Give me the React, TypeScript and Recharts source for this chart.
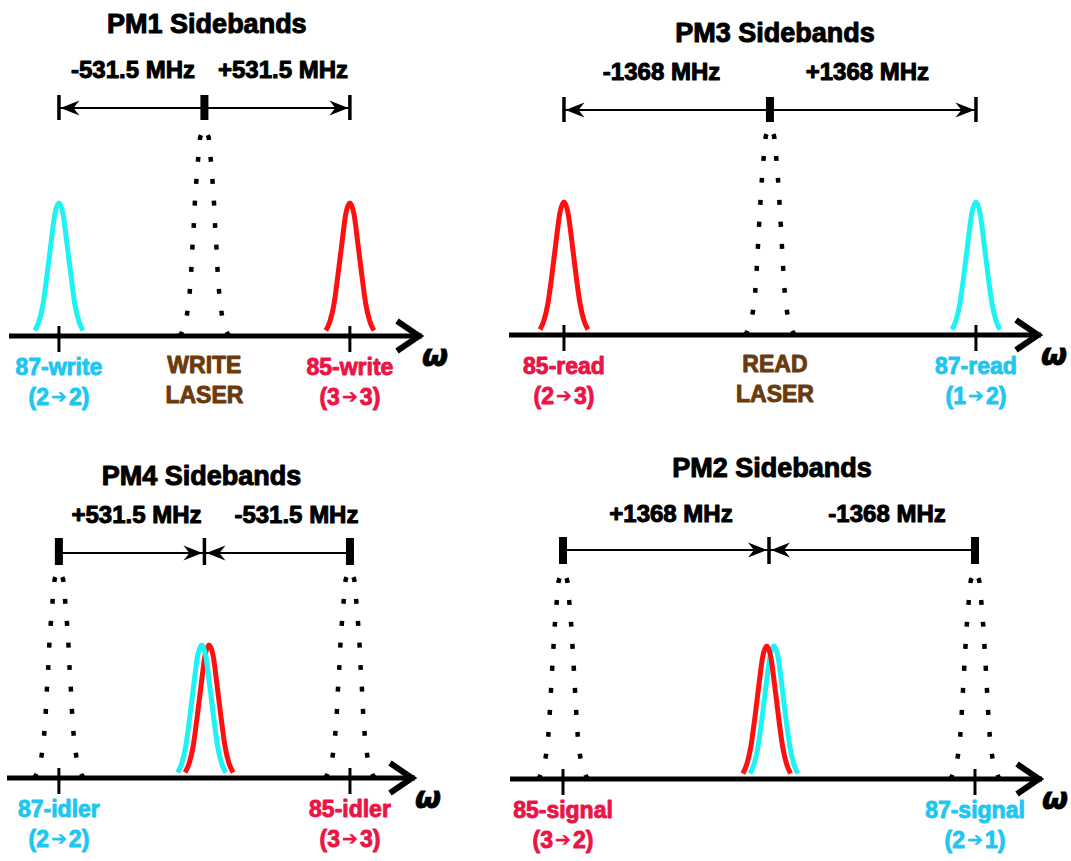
import React from 'react';
import { ComposedChart, Line, XAxis, YAxis, ReferenceLine, ReferenceDot } from 'recharts';

// ---------- colours ----------
const CYAN_LINE = '#1FF2F2';
const RED_LINE = '#FF1010';
const CYAN_TEXT = '#1EC6F0';
const RED_TEXT = '#EA1446';
const BROWN = '#6A3A0C';
const FONT = '"Liberation Sans", Arial, Helvetica, sans-serif';

// ---------- peak profiles: [offset (MHz), intensity] ----------
// laser (dotted) profile, PM1/PM4 frequency scale: rising half, then falling half
const LASER_NARROW_RISE = [
  [-91, 0], [-80, 5], [-64, 21], [-54, 43], [-48, 66], [-44, 88], [-39, 110], [-35, 133],
  [-29, 157], [-22, 180], [-15, 199], [0, 205],
];
const LASER_NARROW_FALL = [
  [91, 0], [80, 5], [64, 21], [54, 43], [48, 66], [44, 88], [39, 110], [35, 133],
  [29, 157], [22, 180], [15, 199], [0, 205],
];
// laser (dotted) profile, PM2/PM3 frequency scale
const LASER_WIDE_RISE = [
  [-166, 0], [-146, 5], [-116, 21], [-98, 43], [-88, 66], [-80, 88], [-72, 110], [-63, 133],
  [-53, 157], [-40, 180], [-27, 199], [0, 205],
];
const LASER_WIDE_FALL = [
  [166, 0], [146, 5], [116, 21], [98, 43], [88, 66], [80, 88], [72, 110], [63, 133],
  [53, 157], [40, 180], [27, 199], [0, 205],
];
// sideband (coloured) profile, PM1/PM4 scale
const SIDE_NARROW = [
  [-88, 5.5], [-73, 14.5], [-58, 32], [-44, 60], [-29, 93], [-15, 122], [0, 133],
  [15, 122], [29, 93], [44, 60], [58, 32], [73, 14.5], [88, 5.5],
];
// sideband (coloured) profile, PM2/PM3 scale
const SIDE_WIDE = [
  [-159, 5.5], [-133, 14.5], [-106, 32], [-80, 60], [-53, 93], [-27, 122], [0, 133],
  [27, 122], [53, 93], [80, 60], [106, 32], [133, 14.5], [159, 5.5],
];

// ---------- PM1 ----------
const PM1_TITLE = 'PM1 Sidebands';
const PM1_SPANS = ['-531.5 MHz', '+531.5 MHz'];
const PM1_SIDEBANDS = [-531.5, 531.5];
const PM1_NAMES = ['87-write', '85-write'];
const PM1_TRANS = ['2→2', '3→3'];
const PM1_LASER_LABEL = ['WRITE', 'LASER'];
const PM1_LASER_PEAKS = [0];
const PM1_CYAN_PEAKS = [-531.5];
const PM1_RED_PEAKS = [531.5];

// ---------- PM3 ----------
const PM3_TITLE = 'PM3 Sidebands';
const PM3_SPANS = ['-1368 MHz', '+1368 MHz'];
const PM3_SIDEBANDS = [-1368, 1368];
const PM3_NAMES = ['85-read', '87-read'];
const PM3_TRANS = ['2→3', '1→2'];
const PM3_LASER_LABEL = ['READ', 'LASER'];
const PM3_LASER_PEAKS = [0];
const PM3_CYAN_PEAKS = [1368];
const PM3_RED_PEAKS = [-1368];

// ---------- PM4 ----------
const PM4_TITLE = 'PM4 Sidebands';
const PM4_SPANS = ['+531.5 MHz', '-531.5 MHz'];
const PM4_SIDEBANDS = [-531.5, 531.5];
const PM4_NAMES = ['87-idler', '85-idler'];
const PM4_TRANS = ['2→2', '3→3'];
const PM4_LASER_PEAKS = [-531.5, 531.5];
const PM4_CYAN_PEAKS = [-10];
const PM4_RED_PEAKS = [17];

// ---------- PM2 ----------
const PM2_TITLE = 'PM2 Sidebands';
const PM2_SPANS = ['+1368 MHz', '-1368 MHz'];
const PM2_SIDEBANDS = [-1368, 1368];
const PM2_NAMES = ['85-signal', '87-signal'];
const PM2_TRANS = ['3→2', '2→1'];
const PM2_LASER_PEAKS = [-1368, 1368];
const PM2_CYAN_PEAKS = [33];
const PM2_RED_PEAKS = [-15];

type Spec = {
  title: string;
  spans: string[];
  sidebands: number[];
  names: string[];
  trans: string[];
  colors: string[];
  laserLabel?: string[];
  laserPeaks: number[];
  cyanPeaks: number[];
  redPeaks: number[];
  wide: boolean;
  outward: boolean;
};

type Layout = {
  left: number; top: number; width: number; plotH: number;
  mLeft: number; mRight: number; lo: number; hi: number;
  titleX: number; titleY: number; spanX: number[]; spanY: number;
  barY: number; barLo: number; barHi: number; laserDx: number;
};

const PANELS: { spec: Spec; layout: Layout }[] = [
  {
    spec: {
      title: PM1_TITLE, spans: PM1_SPANS, sidebands: PM1_SIDEBANDS, names: PM1_NAMES, trans: PM1_TRANS,
      colors: [CYAN_TEXT, RED_TEXT], laserLabel: PM1_LASER_LABEL, laserPeaks: PM1_LASER_PEAKS,
      cyanPeaks: PM1_CYAN_PEAKS, redPeaks: PM1_RED_PEAKS, wide: false, outward: true,
    },
    layout: {
      left: 0, top: 0, width: 475, plotH: 336, mLeft: 9, mRight: 53, lo: -714, hi: 795,
      titleX: 9, titleY: 303, spanX: [-261, 287], spanY: 258, barY: 228, barLo: 216, barHi: 241, laserDx: 0,
    },
  },
  {
    spec: {
      title: PM3_TITLE, spans: PM3_SPANS, sidebands: PM3_SIDEBANDS, names: PM3_NAMES, trans: PM3_TRANS,
      colors: [RED_TEXT, CYAN_TEXT], laserLabel: PM3_LASER_LABEL, laserPeaks: PM3_LASER_PEAKS,
      cyanPeaks: PM3_CYAN_PEAKS, redPeaks: PM3_RED_PEAKS, wide: true, outward: true,
    },
    layout: {
      left: 500, top: 0, width: 571, plotH: 335, mLeft: 9, mRight: 30, lo: -1733, hi: 1800,
      titleX: 33, titleY: 293, spanX: [-720, 647], spanY: 255, barY: 225, barLo: 213, barHi: 238, laserDx: 5,
    },
  },
  {
    spec: {
      title: PM4_TITLE, spans: PM4_SPANS, sidebands: PM4_SIDEBANDS, names: PM4_NAMES, trans: PM4_TRANS,
      colors: [CYAN_TEXT, RED_TEXT], laserPeaks: PM4_LASER_PEAKS,
      cyanPeaks: PM4_CYAN_PEAKS, redPeaks: PM4_RED_PEAKS, wide: false, outward: false,
    },
    layout: {
      left: 0, top: 430, width: 475, plotH: 348, mLeft: 7, mRight: 60, lo: -721, hi: 769,
      titleX: -11, titleY: 293, spanX: [-248, 336], spanY: 255, barY: 225, barLo: 213, barHi: 240, laserDx: 0,
    },
  },
  {
    spec: {
      title: PM2_TITLE, spans: PM2_SPANS, sidebands: PM2_SIDEBANDS, names: PM2_NAMES, trans: PM2_TRANS,
      colors: [RED_TEXT, CYAN_TEXT], laserPeaks: PM2_LASER_PEAKS,
      cyanPeaks: PM2_CYAN_PEAKS, redPeaks: PM2_RED_PEAKS, wide: true, outward: false,
    },
    layout: {
      left: 500, top: 430, width: 571, plotH: 349, mLeft: 10, mRight: 29, lo: -1720, hi: 1813,
      titleX: 20, titleY: 302, spanX: [-651, 784], spanY: 257, barY: 229, barLo: 215, barHi: 242, laserDx: 0,
    },
  },
];

const AXIS_H = 80;

function buildPeak(center: number, profile: number[][]) {
  return profile.map(([dx, h]) => ({ x: center + dx, y: h }));
}

const heavy = (color: string, w = 0.9) => ({
  fill: color,
  stroke: color,
  strokeWidth: w,
  strokeLinejoin: 'round' as const,
  fontFamily: FONT,
  fontWeight: 'bold' as const,
});

const textShape = (txt: string, size: number) => (p: any) => (
  <text x={p.cx} y={p.cy} textAnchor="middle" fontSize={size} {...heavy('#000', 1)}>
    {txt}
  </text>
);

const arrowHead = (dir: number, gap: number) => (p: any) => {
  const tip = p.cx - dir * gap;
  const cy = p.cy;
  const L = 19, H = 7.5, N = 13;
  return (
    <path
      d={`M${tip},${cy} L${tip - dir * L},${cy - H} L${tip - dir * N},${cy} L${tip - dir * L},${cy + H} Z`}
      fill="#000"
    />
  );
};

const chevron = (p: any) => (
  <path
    d={`M${p.cx - 25},${p.cy - 15} L${p.cx - 3},${p.cy} L${p.cx - 25},${p.cy + 15}`}
    fill="none"
    stroke="#000"
    strokeWidth={6}
  />
);

const omega = (p: any) => (
  <text
    x={p.cx}
    y={p.cy + 30}
    fontFamily='"DejaVu Sans", sans-serif'
    fontWeight="bold"
    fontStyle="italic"
    fontSize={30}
    fill="#000"
    stroke="#000"
    strokeWidth={0.8}
  >
    ω
  </text>
);

function PanelChart({ spec, layout }: { spec: Spec; layout: Layout }) {
  const tickMap = new Map<number, any>();
  spec.sidebands.forEach((v, i) =>
    tickMap.set(v, { kind: 'side', name: spec.names[i], trans: spec.trans[i], color: spec.colors[i] })
  );
  if (spec.laserLabel) tickMap.set(0, { kind: 'laser', lines: spec.laserLabel });
  const ticks = Array.from(tickMap.keys()).sort((a, b) => a - b);

  const renderTick = (props: any) => {
    const { x, y, payload } = props;
    const t = tickMap.get(payload.value);
    if (!t) return <g />;
    if (t.kind === 'laser') {
      return (
        <g>
          <text x={x + layout.laserDx} y={y + 37} textAnchor="middle" fontSize={23} {...heavy(BROWN)}>
            {t.lines[0]}
          </text>
          <text x={x + layout.laserDx} y={y + 67} textAnchor="middle" fontSize={23} {...heavy(BROWN)}>
            {t.lines[1]}
          </text>
        </g>
      );
    }
    const [a, b] = t.trans.split('→');
    return (
      <g>
        <line x1={x} x2={x} y1={y - 10} y2={y + 16} stroke="#000" strokeWidth={3} />
        <text x={x} y={y + 39} textAnchor="middle" fontSize={23} {...heavy(t.color)}>
          {t.name}
        </text>
        <text x={x} y={y + 69} textAnchor="middle" fontSize={23} {...heavy(t.color)}>
          ({a}
          <tspan fontFamily="DejaVu Sans" fontSize={19} strokeWidth={0.3} dx={2} dy={-2}>➔</tspan>
          <tspan dx={2} dy={2}>{b})</tspan>
        </text>
      </g>
    );
  };

  const laserHalves = spec.wide ? [LASER_WIDE_RISE, LASER_WIDE_FALL] : [LASER_NARROW_RISE, LASER_NARROW_FALL];
  const sideProfile = spec.wide ? SIDE_WIDE : SIDE_NARROW;
  const colored = [
    ...spec.cyanPeaks.map((c) => ({ c, color: CYAN_LINE })),
    ...spec.redPeaks.map((c) => ({ c, color: RED_LINE })),
  ].sort((p, q) => q.c - p.c);

  const [bL, bR] = spec.sidebands;
  const markers = [bL, 0, bR];

  return (
    <ComposedChart
      width={layout.width}
      height={layout.plotH + AXIS_H}
      margin={{ top: 0, right: layout.mRight, bottom: 0, left: layout.mLeft }}
    >
      <XAxis
        type="number"
        dataKey="x"
        domain={[layout.lo, layout.hi]}
        allowDataOverflow
        ticks={ticks}
        interval={0}
        tick={renderTick}
        tickLine={false}
        tickSize={0}
        tickMargin={0}
        axisLine={{ stroke: '#000', strokeWidth: 5 }}
        height={AXIS_H}
      />
      <YAxis hide type="number" domain={[0, layout.plotH]} allowDataOverflow width={0} />

      {spec.laserPeaks.flatMap((c, i) =>
        laserHalves.map((half, j) => (
          <Line
            key={'laser' + i + '-' + j}
            data={buildPeak(c, half)}
            dataKey="y"
            type="monotone"
            stroke="#000"
            strokeWidth={4.5}
            strokeDasharray="5 17"
            dot={false}
            activeDot={false}
            isAnimationActive={false}
          />
        ))
      )}
      {colored.map((p, i) => (
        <Line
          key={'side' + i}
          data={buildPeak(p.c, sideProfile)}
          dataKey="y"
          type="monotone"
          stroke={p.color}
          strokeWidth={5}
          dot={false}
          activeDot={false}
          isAnimationActive={false}
        />
      ))}

      {/* span bar */}
      <ReferenceLine
        segment={[{ x: bL, y: layout.barY }, { x: bR, y: layout.barY }]}
        stroke="#000"
        strokeWidth={2}
        ifOverflow="visible"
      />
      {markers.map((m, i) => (
        <ReferenceLine
          key={'mk' + i}
          segment={[{ x: m, y: layout.barLo }, { x: m, y: layout.barHi }]}
          stroke="#000"
          strokeWidth={(m === 0) === spec.outward ? 8 : 3.5}
          ifOverflow="visible"
        />
      ))}
      {spec.outward ? (
        <>
          <ReferenceDot x={bL} y={layout.barY} r={0} ifOverflow="visible" shape={arrowHead(-1, 1.5)} />
          <ReferenceDot x={bR} y={layout.barY} r={0} ifOverflow="visible" shape={arrowHead(1, 1.5)} />
        </>
      ) : (
        <>
          <ReferenceDot x={0} y={layout.barY} r={0} ifOverflow="visible" shape={arrowHead(1, 2)} />
          <ReferenceDot x={0} y={layout.barY} r={0} ifOverflow="visible" shape={arrowHead(-1, 2)} />
        </>
      )}

      {/* texts */}
      <ReferenceDot x={layout.titleX} y={layout.titleY} r={0} ifOverflow="visible" shape={textShape(spec.title, 27)} />
      <ReferenceDot x={layout.spanX[0]} y={layout.spanY} r={0} ifOverflow="visible" shape={textShape(spec.spans[0], 24)} />
      <ReferenceDot x={layout.spanX[1]} y={layout.spanY} r={0} ifOverflow="visible" shape={textShape(spec.spans[1], 24)} />

      {/* axis arrow and omega */}
      <ReferenceDot x={layout.hi} y={0} r={0} ifOverflow="visible" shape={chevron} />
      <ReferenceDot x={layout.hi} y={0} r={0} ifOverflow="visible" shape={omega} />
    </ComposedChart>
  );
}

export default function App() {
  return (
    <div style={{ position: 'absolute', left: 0, top: 0, width: 1071, height: 861, background: '#fff' }}>
      {PANELS.map((p) => (
        <div key={p.spec.title} style={{ position: 'absolute', left: p.layout.left, top: p.layout.top }}>
          <PanelChart spec={p.spec} layout={p.layout} />
        </div>
      ))}
    </div>
  );
}
